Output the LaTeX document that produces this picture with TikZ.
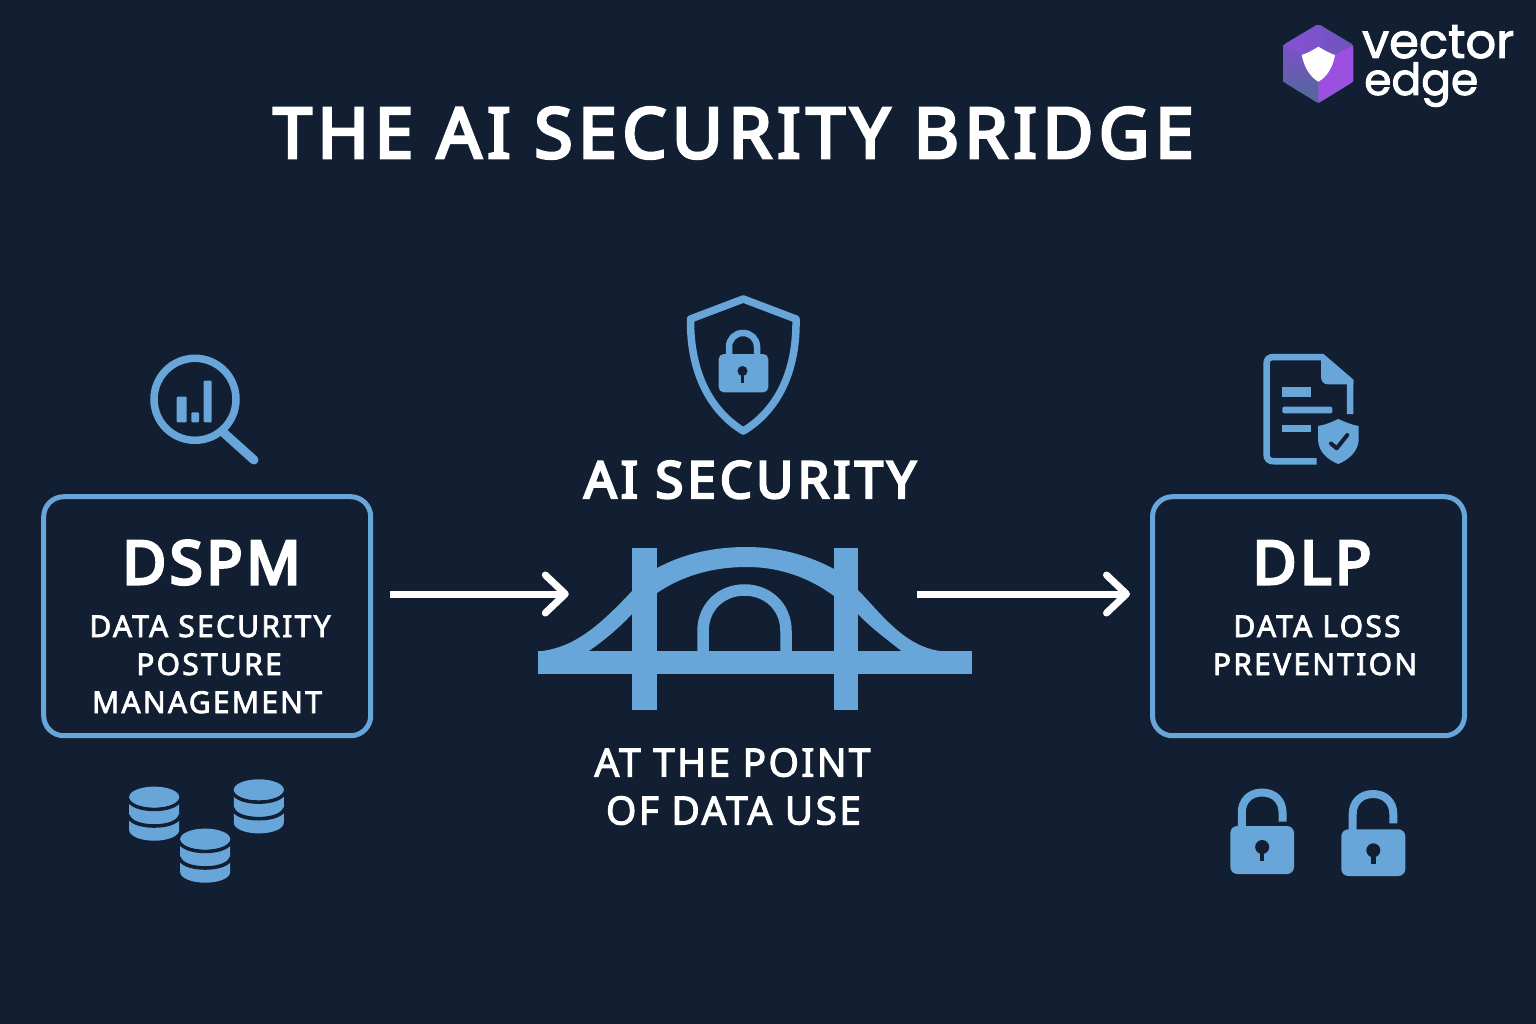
\documentclass[tikz,border=0pt]{standalone}
\usepackage{fontspec}
\usetikzlibrary{arrows.meta,calc}
\setmainfont{Noto Sans}
\newfontfamily\titlefont[LetterSpace=7.6,FakeBold=4.2]{Noto Sans}
\newfontfamily\acrofont[LetterSpace=6,FakeBold=5]{Noto Sans}
\newfontfamily\headfont[LetterSpace=8,FakeBold=4.5]{Noto Sans}
\newfontfamily\lowfont[LetterSpace=6,FakeBold=2.6]{Noto Sans}
\newfontfamily\subfont[LetterSpace=7.5,FakeBold=2.6]{Noto Sans}
\newfontfamily\logofont[FakeBold=2]{Poppins}
\definecolor{bgc}{HTML}{121F33}
\definecolor{bluec}{HTML}{68A6D9}
\definecolor{lfaceA}{HTML}{7D50CC}
\definecolor{lfaceB}{HTML}{4F6A96}
\definecolor{tfaceA}{HTML}{8A50D8}
\definecolor{tfaceB}{HTML}{6A55B8}
\definecolor{rfacec}{HTML}{9C50E2}
\tikzset{
 titletext/.style={text=white,anchor=base,inner sep=0pt,font={\titlefont\fontsize{70}{70}\selectfont}},
 acrotext/.style={text=white,anchor=base,inner sep=0pt,font={\acrofont\fontsize{60}{60}\selectfont}},
 headtext/.style={text=white,anchor=base,inner sep=0pt,font={\headfont\fontsize{51}{51}\selectfont}},
 lowtext/.style={text=white,anchor=base,inner sep=0pt,font={\lowfont\fontsize{39}{39}\selectfont}},
 subtext/.style={text=white,anchor=base,inner sep=0pt,font={\subfont\fontsize{30}{30}\selectfont}},
 logotext/.style={text=white,anchor=base west,inner sep=0pt,font={\logofont\fontsize{48}{48}\selectfont}},
 logosmall/.style={logotext,font={\logofont\fontsize{44}{44}\selectfont}},
 panel/.style={draw=bluec,line width=5pt,rounded corners=20pt,inner sep=0pt},
 conn/.style={draw=white,line width=7pt,-{Straight Barb[length=20pt,width=38pt,line cap=round,round]}},
 ico/.style={draw=bluec,line width=7pt},
 icofill/.style={fill=bluec},
 hole/.style={fill=bgc},
}
\newcommand{\dbicon}[2]{%
 \begin{scope}[shift={(#1,#2)}]
  \fill[bluec] (-25,0) -- (-25,33) .. controls (-25,39) and (-14,43.7) .. (0,43.7) .. controls (14,43.7) and (25,39) .. (25,33) -- (25,0) -- cycle;
  \draw[bgc,line width=3.6pt] (-26,1.5) .. controls (-25,8) and (-14,12.4) .. (0,12.4) .. controls (14,12.4) and (25,8) .. (26,1.5);
  \draw[bgc,line width=3.6pt] (-26,18.2) .. controls (-25,24.7) and (-14,29) .. (0,29) .. controls (14,29) and (25,24.7) .. (26,18.2);
  \fill[bluec] (0,0) circle [x radius=25pt,y radius=10.4pt];
 \end{scope}}
\newcommand{\openlock}[8]{% bl,br,bt,bb,legL,legR,top,end
 \draw[ico,line width=8pt] (#5,#3+2) -- (#5,#7+20) .. controls (#5,#7+8) and ({(#5+#6)/2-12},#7) .. ({(#5+#6)/2},#7) .. controls ({(#5+#6)/2+12},#7) and (#6,#7+8) .. (#6,#7+20) -- (#6,#8);
 \fill[bluec,rounded corners=7pt] (#1,#3) rectangle (#2,#4);
 \fill[hole] ({(#1+#2)/2},#3+21) circle [radius=7pt];
 \fill[hole] ({(#1+#2)/2-2.3},#3+21) rectangle ({(#1+#2)/2+2.3},#3+34.5);
}
\begin{document}
\begin{tikzpicture}[x=1pt,y=-1pt]
\useasboundingbox (0,0) rectangle (1536,1024);
\fill[bgc] (0,0) rectangle (1536,1024);

% title and logo
\node[titletext] (title) at (733.5,158) {THE AI SECURITY BRIDGE};
\fill[lfaceB,rounded corners=3pt] (1318.3,24) -- (1353.3,45) -- (1353.3,81.7) -- (1318.3,103.3) -- (1283.3,81.7) -- (1283.3,45) -- cycle;
\shade[top color=lfaceA,bottom color=lfaceB] (1283.5,45) -- (1318.3,63) -- (1318.3,103) -- (1283.5,81.7) -- cycle;
\fill[rfacec] (1318.3,63) -- (1353.1,45) -- (1353.1,81.7) -- (1318.3,103) -- cycle;
\shade[left color=tfaceA,right color=tfaceB,rounded corners=2pt] (1283.3,45) -- (1318.3,24) -- (1353.3,45) -- (1318.3,63) -- cycle;
\fill[white] (1318.3,46.7) .. controls (1324,50) and (1329,53) .. (1335,55) .. controls (1333,67) and (1327,77) .. (1318.3,81.7) .. controls (1310,77) and (1304,67) .. (1301.7,55) .. controls (1308,53) and (1313,50) .. (1318.3,46.7) -- cycle;
\node[logotext] (logoa) at (1362,58) {vector};
\node[logosmall] (logob) at (1364,95) {edge};

% left panel
\node[panel,minimum width=327pt,minimum height=239pt] (dspm) at (207.2,616.2) {};
\node[acrotext] (dspmt) at (211.5,584) {DSPM};
\node[subtext] (dspma) at (210,637) {DATA SECURITY};
\node[subtext] (dspmb) at (209,675) {POSTURE};
\node[subtext] (dspmc) at (207,713) {MANAGEMENT};

% right panel
\node[panel,minimum width=312pt,minimum height=239pt] (dlp) at (1308.5,616.2) {};
\node[acrotext] (dlpt) at (1312,584) {DLP};
\node[subtext] (dlpa) at (1317,637) {DATA LOSS};
\node[subtext] (dlpb) at (1315,675) {PREVENTION};

% magnifier
\draw[ico,line width=7.5pt] (195,399.3) circle [radius=41pt];
\draw[ico,line width=9pt,line cap=round] (224,433) -- (254,460);
\fill[bluec,rounded corners=1pt] (176.7,396.7) rectangle (186.7,422.3);
\fill[bluec,rounded corners=1pt] (191.3,412.3) rectangle (199,422.3);
\fill[bluec,rounded corners=1pt] (203.7,380.7) rectangle (211.7,422.3);

% databases
\dbicon{154.2}{797}
\dbicon{258.8}{789.7}
\dbicon{205.2}{839}

% centre shield
\draw[ico,line width=7.5pt,line join=round] (743.3,299) -- (796,319) .. controls (797,375) and (775,412) .. (743.3,431) .. controls (712,412) and (690,375) .. (690.5,319) -- cycle;
\draw[ico,line width=6.5pt] (729,356) -- (729,347) .. controls (729,339) and (735,333) .. (743,333) .. controls (751,333) and (757,339) .. (757,347) -- (757,356);
\fill[bluec,rounded corners=5pt] (718.7,354) rectangle (768.3,392.3);
\fill[hole] (742.5,371) circle [radius=5pt];
\fill[hole] (741,372) rectangle (744,383);
\node[headtext] (ai) at (750,498) {AI SECURITY};

% bridge
\node[inner sep=0pt,minimum width=434pt,minimum height=162pt] (bridge) at (755,629) {};
\fill[bluec] (632.3,548) rectangle (657.3,710);
\fill[bluec] (833.7,548) rectangle (858,710);
\fill[bluec] (538,651) rectangle (972,673.7);
\fill[bluec] (657,568) .. controls (685,553) and (715,547) .. (747,547) .. controls (778,547) and (808,555) .. (834,569) -- (834,596) .. controls (810,578) and (780,567) .. (747,567) .. controls (712,567) and (682,576) .. (657,593) -- cycle;
\fill[bluec] (633,590) .. controls (600,625) and (575,648) .. (538,651.5) -- (588,651.5) .. controls (605,640) and (620,627) .. (633,613) -- cycle;
\fill[bluec] (857,589) .. controls (880,612) and (905,649) .. (945,651.5) -- (902,651.5) .. controls (885,638) and (870,627) .. (857,613) -- cycle;
\draw[ico,line width=11.5pt] (703,652) -- (703,631.5) .. controls (703,606) and (722,590) .. (744.5,590) .. controls (767,590) and (786,606) .. (786,631.5) -- (786,652);
\node[lowtext] (ata) at (732.5,776.5) {AT THE POINT};
\node[lowtext] (atb) at (733.5,824.5) {OF DATA USE};

% document icon
\draw[ico,line width=6.5pt] (1316.7,461.3) -- (1274,461.3) .. controls (1269,461.3) and (1266.5,459) .. (1266.5,454) -- (1266.5,364) .. controls (1266.5,359) and (1269,357) .. (1274,357) -- (1322,357) -- (1350,381) -- (1350,414);
\fill[bluec] (1321,354) -- (1353.3,380) -- (1353.3,384.3) -- (1328,384.3) .. controls (1323,384.3) and (1321,381) .. (1321,376) -- cycle;
\fill[bluec] (1282.3,387.3) rectangle (1310.7,396.7);
\fill[bluec,rounded corners=2pt] (1282.3,406.7) rectangle (1332.3,413.3);
\fill[bluec] (1282.3,425) rectangle (1310.7,431.7);
\fill[bluec] (1338.3,419) .. controls (1345,422) and (1352,425) .. (1358.7,426) -- (1358.7,440) .. controls (1358,452) and (1348,460) .. (1338.3,464) .. controls (1328,460) and (1318.5,452) .. (1318,440) -- (1318,426) .. controls (1325,425) and (1332,422) .. (1338.3,419) -- cycle;
\draw[bgc,line width=4pt,line cap=round,line join=round] (1331,443.5) -- (1336.7,448.3) -- (1347.3,435);

% open locks
\openlock{1230.3}{1294}{826}{874}{1241.8}{1282.5}{792.5}{821.7}
\openlock{1341.3}{1405.3}{829.3}{876}{1352.7}{1393.3}{794}{823.3}

% connectors
\coordinate (lane) at (0,594);
\draw[conn,shorten <=16.5pt,shorten >=-31pt] (dspm.east |- lane) -- (bridge.west |- lane);
\draw[conn,shorten <=-55pt,shorten >=20pt] (bridge.east |- lane) -- (dlp.west |- lane);
\end{tikzpicture}
\end{document}
